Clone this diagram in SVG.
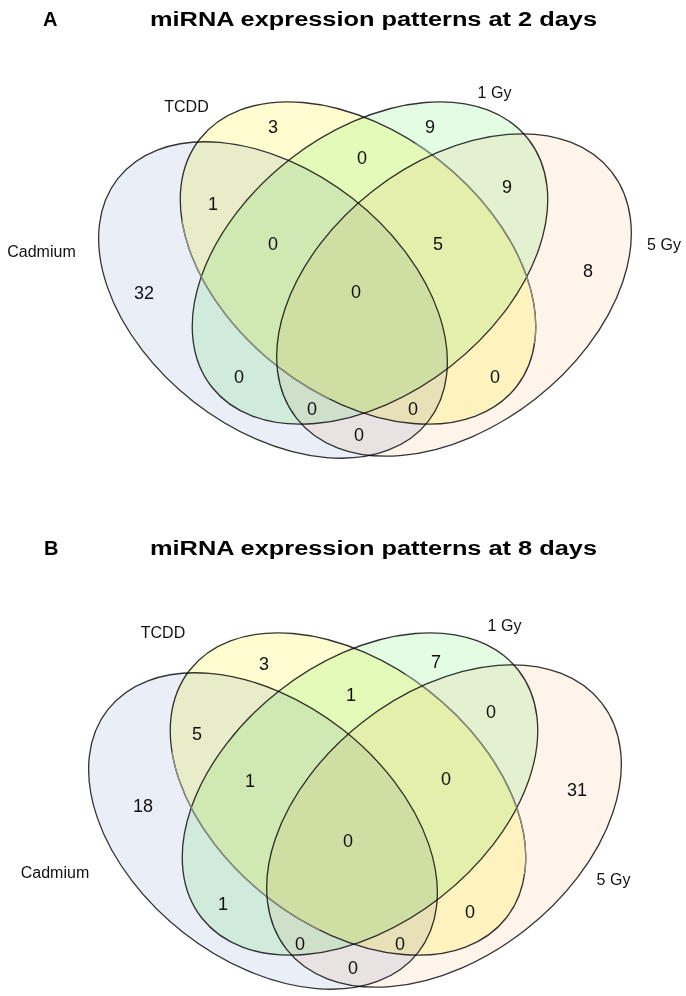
<svg xmlns="http://www.w3.org/2000/svg" width="686" height="996" viewBox="0 0 686 996">
<style>
.ttl{font-family:"Liberation Sans",Arial,sans-serif;font-weight:bold;font-size:20px;fill:#000}
.lbl{font-family:"Liberation Sans",Arial,sans-serif;font-size:16px;fill:#111;text-anchor:middle}
.num{font-family:"Liberation Sans",Arial,sans-serif;font-size:18px;fill:#111;text-anchor:middle}
.set{mix-blend-mode:multiply;stroke:#333;stroke-width:1.3}
.cad{fill:#E9EEF7}
.tcdd{fill:#FFFDCF}
.gy1{fill:#E4FCE4}
.gy5{fill:#FEF4EA}
.fade{fill:none;stroke:#8E968E;stroke-width:1.3}
</style>
<defs>
<clipPath id="clipA1"><ellipse cx="370" cy="263" rx="201" ry="131" transform="rotate(-38 370 263)"/></clipPath>
<clipPath id="clipB1"><ellipse cx="360" cy="794" rx="201" ry="131" transform="rotate(-38 360 794)"/></clipPath>
</defs>
<rect width="686" height="996" fill="#fff"/>

<!-- Panel A -->
<g id="panelA">
<text class="ttl" x="43" y="26">A</text>
<text class="ttl" x="150" y="26" textLength="447" lengthAdjust="spacingAndGlyphs">miRNA expression patterns at 2 days</text>
<g id="A-cadmium">
<ellipse class="set cad" cx="273" cy="300" rx="197" ry="129" transform="rotate(38 273 300)"/>
<text class="lbl" x="41.5" y="257">Cadmium</text>
</g>
<g id="A-tcdd">
<ellipse class="set tcdd" cx="358" cy="263" rx="201" ry="131" transform="rotate(38 358 263)"/>
<text class="lbl" x="186.5" y="112">TCDD</text>
</g>
<g id="A-1gy">
<ellipse class="set gy1" cx="370" cy="263" rx="201" ry="131" transform="rotate(-38 370 263)"/>
<ellipse class="fade" clip-path="url(#clipA1)" cx="358" cy="263" rx="201" ry="131" transform="rotate(38 358 263)"/>
<text class="lbl" x="494.5" y="98">1 Gy</text>
</g>
<g id="A-5gy">
<ellipse class="set gy5" cx="454" cy="295" rx="200" ry="132" transform="rotate(-38 454 295)"/>
<text class="lbl" x="664" y="250">5 Gy</text>
</g>
<g id="A-counts">
<text class="num" x="273" y="132.5">3</text>
<text class="num" x="430" y="132.5">9</text>
<text class="num" x="362" y="163.5">0</text>
<text class="num" x="507" y="192.5">9</text>
<text class="num" x="213" y="209.5">1</text>
<text class="num" x="273" y="249.5">0</text>
<text class="num" x="438" y="249.5">5</text>
<text class="num" x="144" y="298.5">32</text>
<text class="num" x="588" y="276.5">8</text>
<text class="num" x="356" y="297.5">0</text>
<text class="num" x="239" y="382.5">0</text>
<text class="num" x="495" y="382.5">0</text>
<text class="num" x="312" y="414.5">0</text>
<text class="num" x="413" y="414.5">0</text>
<text class="num" x="359" y="440.5">0</text>
</g>
</g>

<!-- Panel B -->
<g id="panelB">
<text class="ttl" x="44" y="555">B</text>
<text class="ttl" x="150" y="555" textLength="447" lengthAdjust="spacingAndGlyphs">miRNA expression patterns at 8 days</text>
<g id="B-cadmium">
<ellipse class="set cad" cx="263" cy="831" rx="197" ry="129" transform="rotate(38 263 831)"/>
<text class="lbl" x="55" y="878">Cadmium</text>
</g>
<g id="B-tcdd">
<ellipse class="set tcdd" cx="348" cy="794" rx="201" ry="131" transform="rotate(38 348 794)"/>
<text class="lbl" x="163" y="638">TCDD</text>
</g>
<g id="B-1gy">
<ellipse class="set gy1" cx="360" cy="794" rx="201" ry="131" transform="rotate(-38 360 794)"/>
<ellipse class="fade" clip-path="url(#clipB1)" cx="348" cy="794" rx="201" ry="131" transform="rotate(38 348 794)"/>
<text class="lbl" x="504.5" y="631">1 Gy</text>
</g>
<g id="B-5gy">
<ellipse class="set gy5" cx="444" cy="826" rx="200" ry="132" transform="rotate(-38 444 826)"/>
<text class="lbl" x="613.5" y="885">5 Gy</text>
</g>
<g id="B-counts">
<text class="num" x="264" y="669.5">3</text>
<text class="num" x="436" y="667.5">7</text>
<text class="num" x="351" y="700.5">1</text>
<text class="num" x="491" y="717.5">0</text>
<text class="num" x="197" y="739.5">5</text>
<text class="num" x="250" y="786.5">1</text>
<text class="num" x="446" y="784.5">0</text>
<text class="num" x="143" y="811.5">18</text>
<text class="num" x="577" y="795.5">31</text>
<text class="num" x="348" y="846.5">0</text>
<text class="num" x="223" y="909.5">1</text>
<text class="num" x="470" y="917.5">0</text>
<text class="num" x="300" y="949.5">0</text>
<text class="num" x="400" y="949.5">0</text>
<text class="num" x="353" y="973.5">0</text>
</g>
</g>
<g id="connectors"/>
</svg>
